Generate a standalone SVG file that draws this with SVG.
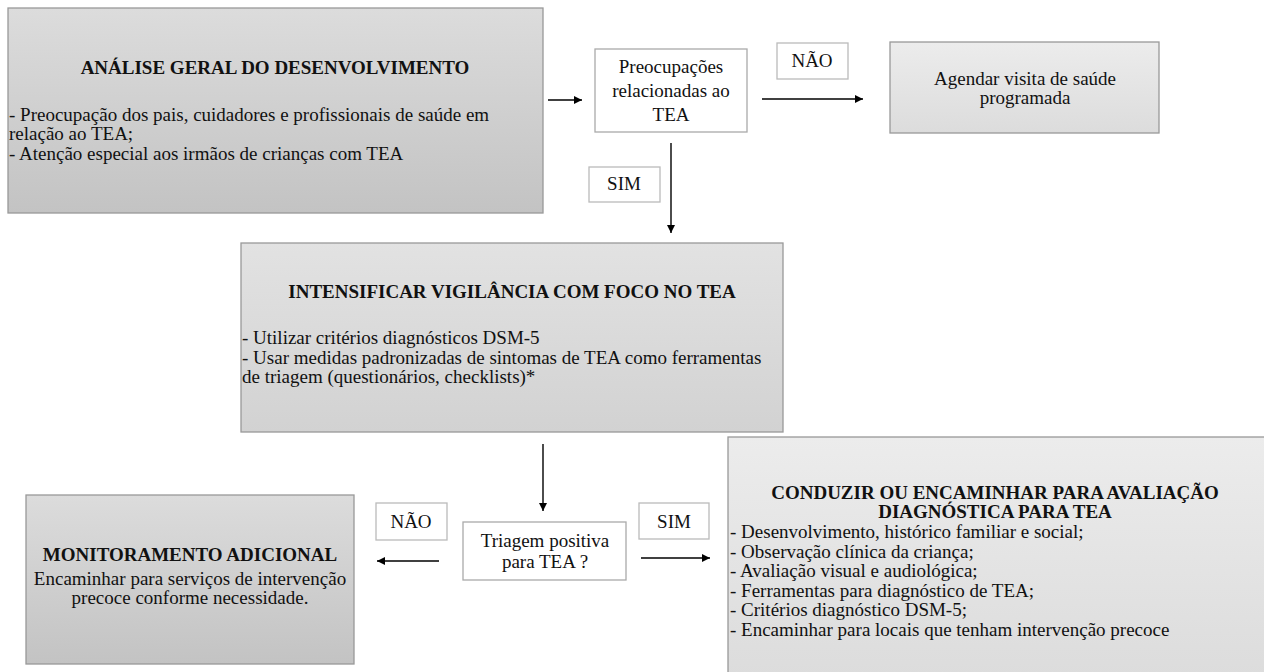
<svg xmlns="http://www.w3.org/2000/svg" width="1264" height="672" viewBox="0 0 1264 672">
<defs>
<linearGradient id="gDark" x1="0" y1="0" x2="0" y2="1"><stop offset="0" stop-color="#dcdcdc"/><stop offset="1" stop-color="#c3c3c3"/></linearGradient>
<linearGradient id="gMid" x1="0" y1="0" x2="0" y2="1"><stop offset="0" stop-color="#e2e2e2"/><stop offset="1" stop-color="#d2d2d2"/></linearGradient>
<linearGradient id="gLight" x1="0" y1="0" x2="0" y2="1"><stop offset="0" stop-color="#ececec"/><stop offset="1" stop-color="#dcdcdc"/></linearGradient>
<marker id="arr" viewBox="0 0 10 10" refX="10" refY="5" markerWidth="8" markerHeight="8" markerUnits="userSpaceOnUse" orient="auto"><path d="M0,0 L10,5 L0,10 z" fill="#000"/></marker>
<style>
text{font-size:19px;fill:#111}
.t{font-weight:bold;text-anchor:middle}
.c{text-anchor:middle}
.box{stroke:#999;stroke-width:1.3}
.wbox{fill:#fff;stroke:#aaa;stroke-width:1.3}
.lbl{fill:#fff;stroke:#bbb;stroke-width:1.3}
.ln{stroke:#000;stroke-width:1.4;fill:none;marker-end:url(#arr)}
</style>
</defs>
<g font-family="'Liberation Serif', 'Times New Roman', 'DejaVu Serif', 'Noto Serif', serif">
<g id="analise">
<rect class="box" x="8" y="8" width="535" height="205" fill="url(#gDark)"/>
<text class="t" x="275" y="74">ANÁLISE GERAL DO DESENVOLVIMENTO</text>
<text x="9" y="121">- Preocupação dos pais, cuidadores e profissionais de saúde em</text>
<text x="9" y="140">relação ao TEA;</text>
<text x="9" y="160">- Atenção especial aos irmãos de crianças com TEA</text>
</g>
<g id="preocupacoes">
<rect class="wbox" x="595" y="49" width="152" height="83"/>
<text class="c" x="671" y="73">Preocupações</text>
<text class="c" x="671" y="97">relacionadas ao</text>
<text class="c" x="671" y="121">TEA</text>
</g>
<g id="nao1">
<rect class="lbl" x="777" y="43" width="71" height="36"/>
<text class="c" x="812" y="67">NÃO</text>
</g>
<g id="agendar">
<rect class="box" x="890" y="42" width="269" height="91" fill="url(#gLight)"/>
<text class="c" x="1025" y="85">Agendar visita de saúde</text>
<text class="c" x="1025" y="104">programada</text>
</g>
<g id="sim1">
<rect class="lbl" x="589" y="167" width="71" height="35"/>
<text class="c" x="624" y="190">SIM</text>
</g>
<g id="intensificar">
<rect class="box" x="241" y="243" width="542" height="189" fill="url(#gMid)"/>
<text class="t" x="512" y="298">INTENSIFICAR VIGILÂNCIA COM FOCO NO TEA</text>
<text x="242" y="344">- Utilizar critérios diagnósticos DSM-5</text>
<text x="242" y="363.5">- Usar medidas padronizadas de sintomas de TEA como ferramentas</text>
<text x="242" y="383">de triagem (questionários, checklists)*</text>
</g>
<g id="triagem">
<rect class="wbox" x="463" y="522" width="163" height="58"/>
<text class="c" x="545" y="547">Triagem positiva</text>
<text class="c" x="545" y="568">para TEA ?</text>
</g>
<g id="nao2">
<rect class="lbl" x="376" y="503" width="71" height="37"/>
<text class="c" x="411" y="528">NÃO</text>
</g>
<g id="sim2">
<rect class="lbl" x="639" y="503" width="70" height="36"/>
<text class="c" x="674" y="528">SIM</text>
</g>
<g id="monitoramento">
<rect class="box" x="26" y="495" width="328" height="169" fill="url(#gDark)"/>
<text class="t" x="190" y="561">MONITORAMENTO ADICIONAL</text>
<text class="c" x="190" y="585">Encaminhar para serviços de intervenção</text>
<text class="c" x="190" y="604">precoce conforme necessidade.</text>
</g>
<g id="conduzir">
<rect class="box" x="728" y="437" width="540" height="240" fill="url(#gLight)"/>
<text class="t" x="995" y="499">CONDUZIR OU ENCAMINHAR PARA AVALIAÇÃO</text>
<text class="t" x="995" y="518">DIAGNÓSTICA PARA TEA</text>
<text x="730" y="538">- Desenvolvimento, histórico familiar e social;</text>
<text x="730" y="557.5">- Observação clínica da criança;</text>
<text x="730" y="577">- Avaliação visual e audiológica;</text>
<text x="730" y="596.5">- Ferramentas para diagnóstico de TEA;</text>
<text x="730" y="616">- Critérios diagnóstico DSM-5;</text>
<text x="730" y="635.5">- Encaminhar para locais que tenham intervenção precoce</text>
</g>
</g>
<g id="connectors">
<line class="ln" x1="548" y1="100" x2="582" y2="100"/>
<line class="ln" x1="762" y1="99" x2="863" y2="99"/>
<line class="ln" x1="671" y1="143" x2="671" y2="233"/>
<line class="ln" x1="543" y1="444" x2="543" y2="511"/>
<line class="ln" x1="439" y1="561" x2="377" y2="561"/>
<line class="ln" x1="641" y1="558" x2="710" y2="558"/>
</g>
</svg>
